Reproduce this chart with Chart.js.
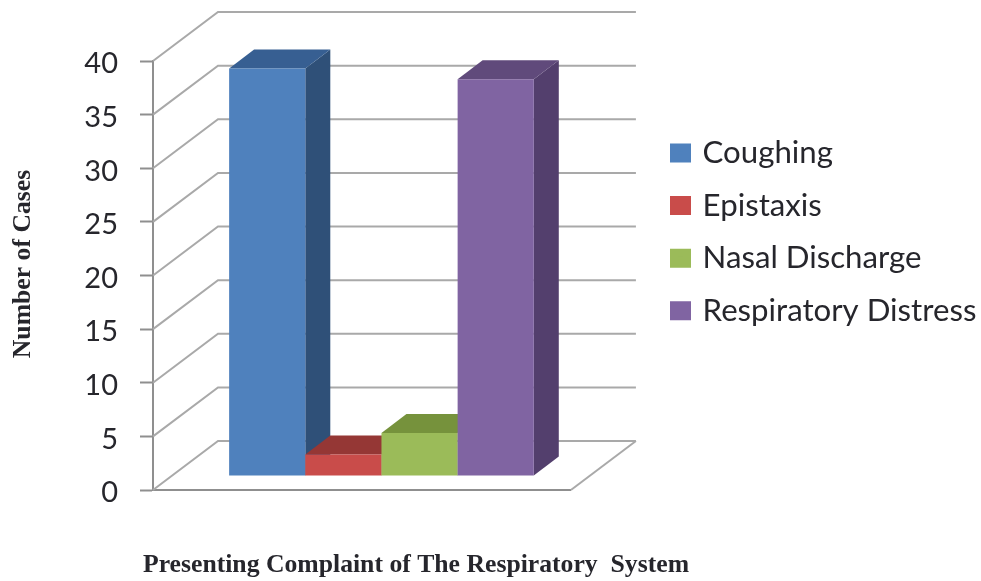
<!DOCTYPE html>
<html>
<head>
<meta charset="utf-8">
<style>html,body{margin:0;padding:0;background:#fff}canvas{display:block}</style>
<script src="https://cdn.jsdelivr.net/npm/chart.js@4/dist/chart.umd.min.js"></script>
</head>
<body>
<canvas id="c" width="981" height="581"></canvas>
<script>
const categories = ['Presenting Complaint'];
const seriesNames = ['Coughing', 'Epistaxis', 'Nasal Discharge', 'Respiratory Distress'];
const caseCounts = [38, 2, 4, 37];
const frontColors = ['#4f81bd', '#c94c4a', '#9bbb59', '#8064a2'];
const sideColors = ['#2f5078', '#9a3432', '#76923c', '#533f6d'];
const topColors = ['#375f92', '#953735', '#76923c', '#604a7b'];
const yTicks = { min: 0, max: 40, step: 5 };
const yTitle = 'Number of Cases';
const xTitle = 'Presenting Complaint of The Respiratory  System';

const PLOT = { left: 153, right: 570, top: 61, bottom: 490 };
const WALL_DEPTH = { x: 65, y: -49 };
const BAR_SHIFT = { x: 19.5, y: -14 };
const BAR_DEPTH = { x: 25, y: -19 };
const GRID = '#a9a9a9';
const AXIS = '#8f8f8f';
const INK = '#26262c';
const TICK_SIZE = 29, LEGEND_SIZE = 31.2, TITLE_SIZE = 25.7;
let yAxisWidth = 120;

function poly(ctx, pts, fill) {
  ctx.beginPath();
  pts.forEach((p, i) => i ? ctx.lineTo(p[0], p[1]) : ctx.moveTo(p[0], p[1]));
  ctx.closePath();
  ctx.fillStyle = fill;
  ctx.fill();
}

const wallsAndBars = {
  id: 'wallsAndBars',
  afterLayout(chart) {
    const lg = chart.legend;
    const pad = lg.options.labels.padding;
    lg.left = 674 - pad; lg.right = 981;
    lg.top = 153 - LEGEND_SIZE * 0.5 - pad; lg.bottom = 581;
    const t = chart.titleBlock;
    if (t) { t.left = 23 - TITLE_SIZE * 0.6; t.right = t.left + TITLE_SIZE * 1.2; t.top = 64; t.bottom = 464; }
    const s = chart.boxes.find(b => b !== t && b.options && b.options.text === xTitle);
    if (s) { s.left = 116; s.right = 716; s.top = 565 - TITLE_SIZE * 0.6; s.bottom = s.top + TITLE_SIZE * 1.2; }
  },
  beforeDatasetsDraw(chart) {
    const { ctx, scales: { y }, chartArea: a } = chart;
    const bx = a.left + WALL_DEPTH.x, ex = a.right + WALL_DEPTH.x;
    ctx.save();
    ctx.strokeStyle = GRID;
    ctx.lineWidth = 2;
    y.ticks.forEach(t => {
      const py = y.getPixelForValue(t.value);
      ctx.beginPath();
      ctx.moveTo(a.left, py);
      ctx.lineTo(bx, py + WALL_DEPTH.y);
      ctx.lineTo(ex, py + WALL_DEPTH.y);
      ctx.stroke();
    });
    ctx.beginPath();
    ctx.moveTo(a.right, a.bottom);
    ctx.lineTo(ex, a.bottom + WALL_DEPTH.y);
    ctx.stroke();
    ctx.restore();

    // Paint bars left to right, each over its neighbour's side face.
    seriesNames.forEach((_, i) => {
      const meta = chart.getDatasetMeta(i);
      const bar = meta.data[0].getProps(['x', 'y', 'base', 'width'], true);
      const l = bar.x - bar.width / 2, r = bar.x + bar.width / 2;
      const dx = BAR_DEPTH.x, dy = BAR_DEPTH.y;
      ctx.save();
      ctx.translate(BAR_SHIFT.x, BAR_SHIFT.y);
      poly(ctx, [[r, bar.y], [r + dx, bar.y + dy], [r + dx, bar.base + dy], [r, bar.base]], sideColors[i]);
      poly(ctx, [[l, bar.y], [l + dx, bar.y + dy], [r + dx, bar.y + dy], [r, bar.y]], topColors[i]);
      meta.controller.draw();
      ctx.restore();
    });
    return false;
  }
};

const chart = new Chart(document.getElementById('c'), {
  type: 'bar',
  data: {
    labels: categories,
    datasets: seriesNames.map((name, i) => ({
      label: name,
      data: [caseCounts[i]],
      backgroundColor: frontColors[i]
    }))
  },
  plugins: [wallsAndBars],
  options: {
    responsive: false,
    animation: false,
    layout: { padding: { left: 0, right: 60, top: PLOT.top, bottom: 60 } },
    datasets: { bar: { barPercentage: 1, categoryPercentage: 0.729 } },
    scales: {
      x: {
        ticks: { display: false },
        grid: { display: false, drawTicks: false },
        border: { display: true, color: AXIS, width: 2 }
      },
      y: {
        min: yTicks.min,
        max: yTicks.max,
        afterFit(s) { s.width = yAxisWidth; },
        ticks: {
          stepSize: yTicks.step,
          padding: 22,
          labelOffset: 3,
          color: INK,
          font: { family: 'Lato', size: TICK_SIZE }
        },
        grid: { drawOnChartArea: false, drawTicks: true, tickLength: 13, tickColor: AXIS, tickWidth: 2 },
        border: { display: true, color: AXIS, width: 2 }
      }
    },
    plugins: {
      tooltip: { enabled: false },
      title: {
        display: true, text: yTitle, position: 'left', padding: 0, color: INK,
        font: { family: 'Liberation Serif', size: TITLE_SIZE, weight: 'bold' }
      },
      subtitle: {
        display: true, text: xTitle, position: 'bottom', padding: 0, color: INK,
        font: { family: 'Liberation Serif', size: TITLE_SIZE, weight: 'bold' }
      },
      legend: {
        position: 'right',
        align: 'start',
        labels: {
          color: INK,
          boxWidth: 13,
          boxHeight: 11,
          padding: 21.4,
          font: { family: 'Lato', size: LEGEND_SIZE },
          generateLabels(c) {
            return c.data.datasets.map((d, i) => ({
              text: d.label, fillStyle: frontColors[i], strokeStyle: frontColors[i],
              lineWidth: 8, hidden: false, datasetIndex: i, fontColor: INK
            }));
          }
        }
      }
    }
  }
});

// Fit the library's own layout so the plot box lands on the reference frame.
for (let n = 0; n < 3; n++) {
  const a = chart.chartArea, p = chart.options.layout.padding;
  yAxisWidth += PLOT.left - a.left;
  p.right += a.right - PLOT.right;
  p.bottom += a.bottom - PLOT.bottom;
  chart.update('none');
}
</script>
</body>
</html>
